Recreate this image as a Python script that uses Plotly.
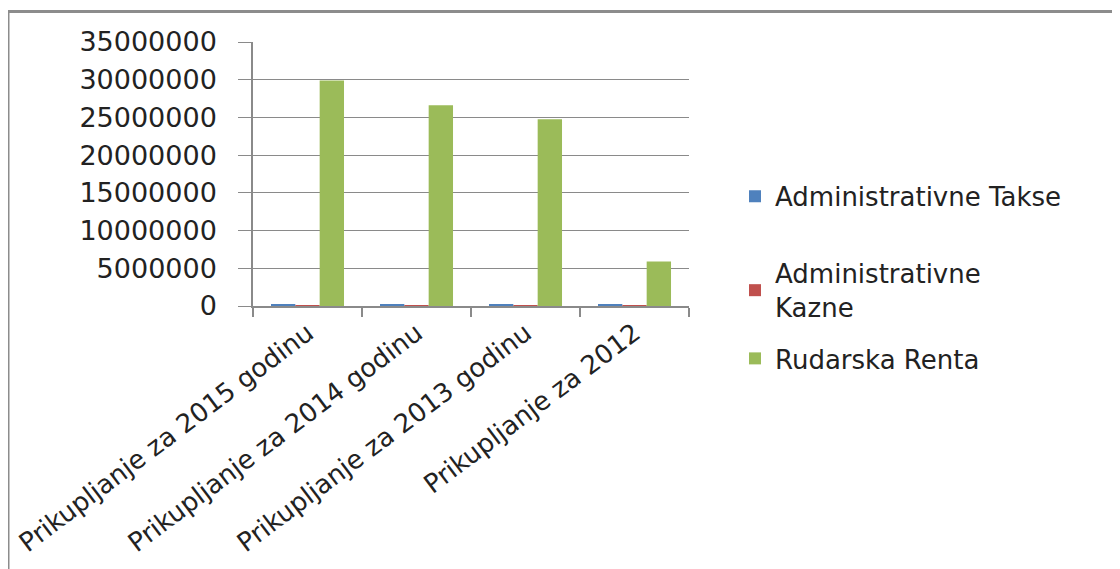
import plotly.graph_objects as go

categories = ["Prikupljanje za 2015 godinu", "Prikupljanje za 2014 godinu",
              "Prikupljanje za 2013 godinu", "Prikupljanje za 2012"]
takse = [220000, 220000, 220000, 220000]
kazne = [5000, 5000, 5000, 5000]
renta = [29900000, 26600000, 24750000, 5900000]
series_names = ["Administrativne Takse", "Administrativne<br>Kazne", "Rudarska Renta"]
colors = ["#4F81BD", "#C0504D", "#9BBB59"]
y_ticks = [0, 5000000, 10000000, 15000000, 20000000, 25000000, 30000000, 35000000]

OFF = 8  # page body margin
W, H = 1120 - OFF, 569 - OFF
L, R, T, B = 253 - OFF, 689 - OFF, 42 - OFF, 305.6 - OFF
pw, ph = R - L, B - T

def px_x(x):
    return (x - OFF - L) / pw

def px_y(y):
    return (B - (y - OFF)) / ph

FONT = "DejaVu Sans"
TXT = "#222222"
GRID = "#8a8a8a"

fig = go.Figure()
legends = ["legend", "legend2", "legend3"]
for vals, name, col, lg in zip([takse, kazne, renta], series_names, colors, legends):
    fig.add_trace(go.Bar(x=categories, y=vals, name=name, marker_color=col,
                         marker_line_width=0, legend=lg, showlegend=True))

leg_common = dict(font=dict(family=FONT, size=26, color=TXT), bgcolor="rgba(0,0,0,0)",
                  xanchor="left", yanchor="middle", borderwidth=0, itemclick=False,
                  visible=True)
fig.update_layout(
    width=W, height=H,
    showlegend=True,
    margin=dict(l=L, r=W - R, t=T, b=H - B, pad=0, autoexpand=False),
    paper_bgcolor="white", plot_bgcolor="white",
    barmode="group", bargap=0.33, bargroupgap=0,
    font=dict(family=FONT, size=26, color=TXT),
    legend=dict(x=px_x(735), y=px_y(196), **leg_common),
    legend2=dict(x=px_x(735), y=px_y(290), **leg_common),
    legend3=dict(x=px_x(735), y=px_y(358), **leg_common),
    xaxis=dict(showline=True, linecolor=GRID, linewidth=1.5, ticks="outside",
               tickson="boundaries", ticklen=9, tickcolor=GRID, tickwidth=1.5,
               tickangle=-37, tickfont=dict(family=FONT, size=26, color=TXT),
               showgrid=False, automargin=False),
    yaxis=dict(range=[0, 35000000], tickvals=y_ticks, tickformat="d",
               showgrid=True, gridcolor=GRID, gridwidth=1.2,
               showline=True, linecolor=GRID, linewidth=1.5,
               ticks="outside", ticklen=13, tickcolor=GRID, tickwidth=1.2,
               zeroline=False, ticklabelstandoff=16, automargin=False,
               tickfont=dict(family=FONT, size=27, color=TXT)),
    shapes=[dict(type="rect", xref="paper", yref="paper",
                 x0=px_x(8), x1=px_x(1135), y0=px_y(585), y1=px_y(11.5),
                 line=dict(color="#8c8c8c", width=3), fillcolor="rgba(0,0,0,0)",
                 layer="above")],
)

fig.write_html("out.html")
